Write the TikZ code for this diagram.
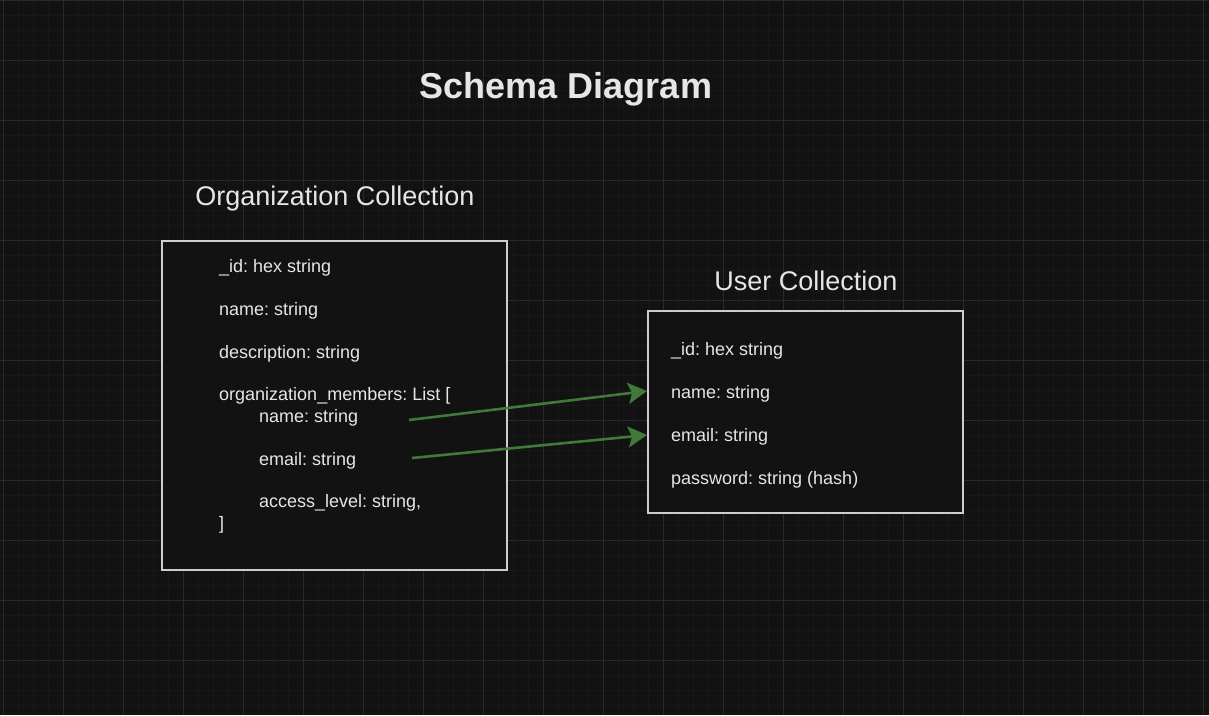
\documentclass[tikz,border=0pt]{standalone}
\usepackage{fontspec}
\setmainfont{Liberation Sans}
\usetikzlibrary{arrows.meta}
\frenchspacing

\definecolor{bgdark}{HTML}{121212}
\definecolor{gridminor}{HTML}{181818}
\definecolor{gridmajor}{HTML}{2A2A2A}
\definecolor{fgtext}{HTML}{E6E6E6}
\definecolor{boxline}{HTML}{CDCDCD}
\definecolor{linkgreen}{HTML}{3F7A38}

\tikzset{
  field/.style={anchor=base west, text=fgtext, inner sep=0pt,
    font=\fontsize{18}{21}\selectfont},
  heading/.style={anchor=base, text=fgtext, inner sep=0pt,
    font=\fontsize{27}{32}\selectfont},
  coll/.style={draw=boxline, line width=1.8pt, fill=bgdark},
  link/.style={draw=linkgreen, line width=2.6pt,
    -{Stealth[length=19pt,width=21pt,inset=4pt]}},
}

\begin{document}
\begin{tikzpicture}[x=1pt,y=-1pt]
    \useasboundingbox (0,0) rectangle (1209,715);
    \fill[bgdark] (0,0) rectangle (1209,715);

    % grid
    \foreach \i in {0,...,80} {
      \draw[gridminor,line width=1pt] (3+\i*15,0) -- ++(0,715);
    }
    \foreach \i in {0,...,47} {
      \draw[gridminor,line width=1pt] (0,\i*15) -- ++(1209,0);
    }
    \foreach \i in {0,...,20} {
      \draw[gridmajor,line width=1pt] (3+\i*60,0) -- ++(0,715);
    }
    \foreach \i in {0,...,11} {
      \draw[gridmajor,line width=1pt] (0,\i*60) -- ++(1209,0);
    }

    \node[anchor=base, text=fgtext, inner sep=0pt,
      font=\fontsize{36}{42}\selectfont\bfseries] (title) at (566,98) {Schema Diagram};

    % organization collection
    \node[heading] (orgtitle) at (335,205.5) {Organization Collection};
    \draw[coll] (162,241) rectangle (507,570);
    \foreach \k/\dx/\t in {0/0/{\_id: hex string}, 2/0/{name: string},
        4/0/{description: string}, 6/0/{organization\_members: List [},
        7/40/{name: string}, 9/40/{email: string},
        11/40/{access\_level: string,}, 12/0/{]}} {
      \node[field] (o\k) at (219+\dx,272.5+\k*21.4) {\t};
    }

    % user collection
    \node[heading] (usrtitle) at (806,290.5) {User Collection};
    \draw[coll] (648,311) rectangle (963,513);
    \foreach \k/\t in {0/{\_id: hex string}, 1/{name: string},
        2/{email: string}, 3/{password: string (hash)}} {
      \node[field] (u\k) at (671,355.5+\k*43) {\t};
    }

    \coordinate (ostartname) at (409,420);
    \coordinate (ostartmail) at (412,458);
    \coordinate (uendname) at (647,391);
    \coordinate (uendmail) at (647,435);
    \draw[link] (ostartname) -- (uendname);
    \draw[link] (ostartmail) -- (uendmail);
\end{tikzpicture}
\end{document}
